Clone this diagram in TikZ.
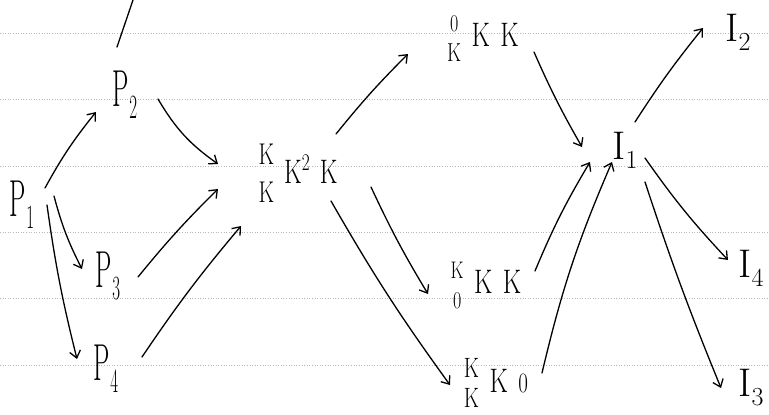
\documentclass[tikz,border=0pt]{standalone}
\usepackage{fontspec}
\usepackage{graphicx}
\usetikzlibrary{arrows.meta,calc}
\tikzset{
  lbl/.style={inner sep=0pt, text=black},
  arr/.style={draw=black, line width=1.3pt, line cap=round,
    -{Straight Barb[length=7pt,width=11pt,line width=1.3pt]}},
  stroke/.style={draw=black, line width=1.3pt, line cap=round},
  ruled/.style={draw=gray!55, line width=0.6pt, dash pattern=on 1pt off 1.6pt},
}
\newcommand\fs[1]{\fontsize{#1}{#1}\selectfont}
\newcommand\Plbl[1]{\scalebox{0.5}[1]{\fs{52}P\raisebox{-12pt}{\fs{34}#1}}}
\newcommand\Ilbl[1]{{\fs{40}I\raisebox{-9pt}{\fs{26}#1}}}
\newcommand\gap{\hspace{14pt}}
\begin{document}
\begin{tikzpicture}[x=1pt,y=-1pt]
\useasboundingbox[fill=white] (0,0) rectangle (769,415);
\foreach \yy in {33,99,166,232,298,365} \draw[ruled] (0,\yy) -- (769,\yy);

% stray mark at top
\draw[stroke] (117,47) -- (133,0);

% nodes
\node[lbl] (p1) at (22,205) {\Plbl{1}};
\node[lbl] (p2) at (125,95) {\Plbl{2}};
\node[lbl] (p3) at (108,276) {\Plbl{3}};
\node[lbl] (p4) at (106,369) {\Plbl{4}};
\node[lbl] (mid) at (298,177) {\scalebox{0.72}[1]{\fs{34}%
  \begin{tabular}{@{}c@{}}{\fs{30}K}\\[4pt]{\fs{30}K}\end{tabular}\gap K\raisebox{13pt}{\fs{24}2}\gap K}};
\node[lbl] (top) at (483,40) {\scalebox{0.75}[1]{\fs{34}%
  \begin{tabular}{@{}c@{}}{\fs{24}0}\\[-4pt]{\fs{26}K}\end{tabular}\gap K\gap K}};
\node[lbl] (mlow) at (486,287) {\scalebox{0.75}[1]{\fs{34}%
  \begin{tabular}{@{}c@{}}{\fs{24}K}\\[-4pt]{\fs{24}0}\end{tabular}\gap K\gap K}};
\node[lbl] (bot) at (496,386) {\scalebox{0.75}[1]{\fs{34}%
  \begin{tabular}{@{}c@{}}{\fs{28}K}\\[-4pt]{\fs{28}K}\end{tabular}\gap K\gap{\fs{28}0}}};
\node[lbl] (i1) at (625,150) {\Ilbl{1}};
\node[lbl] (i2) at (738,32) {\Ilbl{2}};
\node[lbl] (i4) at (751,268) {\Ilbl{4}};
\node[lbl] (i3) at (751,388) {\Ilbl{3}};

% connectors
\draw[arr] ($(p1)+(23,-17)$) to[bend left=5] ($(p2)+(-29,17)$);
\draw[arr] ($(p1)+(32,-9)$) to[bend right=6] ($(p3)+(-26,-7)$);
\draw[arr] ($(p1)+(25,0)$) to[bend right=3] ($(p4)+(-29,-10)$);
\draw[arr] ($(p2)+(33,4)$) to[bend right=12] ($(mid)+(-80,-13)$);
\draw[arr] ($(p3)+(30,1)$) to[bend left=3] ($(mid)+(-80,12)$);
\draw[arr] ($(p4)+(36,-12)$) to[bend left=3] ($(mid)+(-57,49)$);
\draw[arr] ($(mid)+(38,-43)$) to[bend left=3] ($(top)+(-75,14)$);
\draw[arr] ($(mid)+(73,10)$) to[bend right=3] ($(mlow)+(-58,7)$);
\draw[arr] ($(mid)+(33,24)$) to[bend right=3] ($(bot)+(-46,-1)$);
\draw[arr] ($(top)+(51,12)$) to[bend right=3] ($(i1)+(-43,-3)$);
\draw[arr] ($(mlow)+(49,-16)$) to[bend left=4] ($(i1)+(-35,12)$);
\draw[arr] ($(bot)+(46,-13)$) to[bend left=5] ($(i1)+(-13,12)$);
\draw[arr] ($(i1)+(10,-28)$) to[bend left=3] ($(i2)+(-35,-4)$);
\draw[arr] ($(i1)+(20,8)$) to[bend right=4] ($(i4)+(-23,-8)$);
\draw[arr] ($(i1)+(20,32)$) to[bend right=2] ($(i3)+(-30,0)$);
\end{tikzpicture}
\end{document}
